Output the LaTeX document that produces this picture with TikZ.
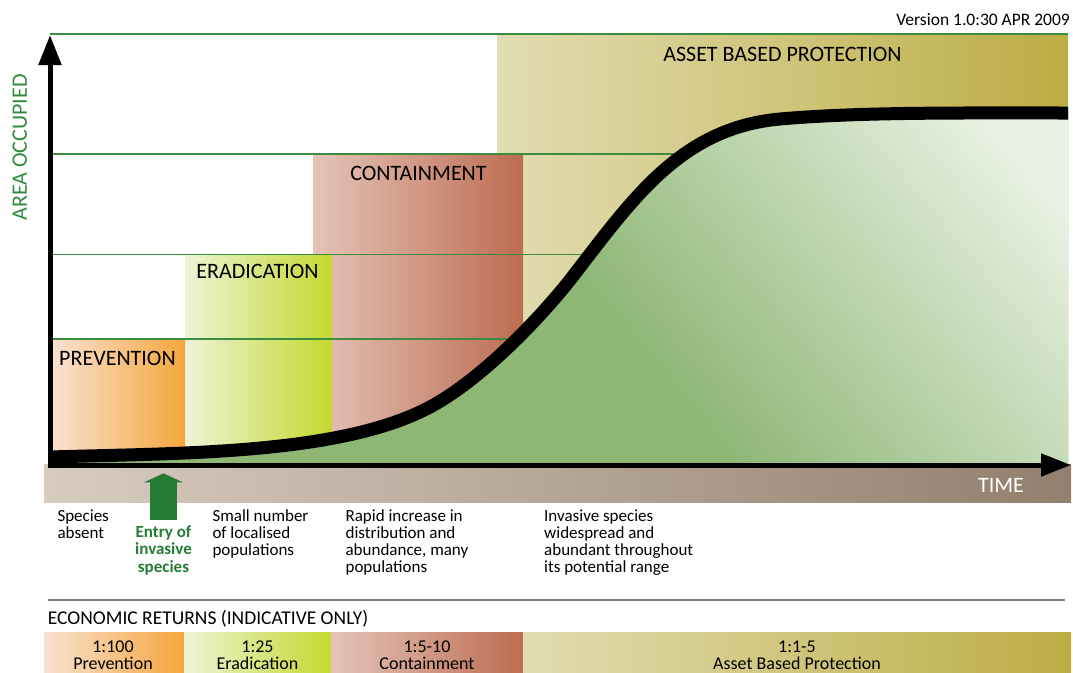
\documentclass[tikz,border=0pt]{standalone}
\usepackage{fontspec}
\setmainfont{Carlito}
\usetikzlibrary{arrows.meta}

% phase colours (light end, strong end)
\definecolor{prevL}{HTML}{F8E2D2}
\definecolor{prevR}{HTML}{F5A63C}
\definecolor{eradL}{HTML}{EEF3D6}
\definecolor{eradR}{HTML}{C3D92F}
\definecolor{contL}{HTML}{E4C4B9}
\definecolor{contR}{HTML}{BD6C50}
\definecolor{assetL}{HTML}{E2DDB2}
\definecolor{assetR}{HTML}{BCAD44}
\definecolor{timeL}{HTML}{D8CCC0}
\definecolor{timeR}{HTML}{927F6E}
\definecolor{areaDark}{HTML}{8EB776}
\definecolor{areaLight}{HTML}{EAF2E4}
\definecolor{levelgreen}{HTML}{3C8C3F}
\definecolor{entrygreen}{HTML}{267C35}
\definecolor{labelgreen}{HTML}{2E8B3E}
\definecolor{rulegray}{HTML}{7F7F7F}

\pgfdeclarehorizontalshading{areafade}{100bp}{color(0bp)=(areaDark); color(39bp)=(areaDark); color(60bp)=(areaLight); color(100bp)=(areaLight)}

\tikzset{
  prevzone/.style={left color=prevL, right color=prevR},
  eradzone/.style={left color=eradL, right color=eradR},
  contzone/.style={left color=contL, right color=contR},
  assetzone/.style={left color=assetL, right color=assetR},
  level/.style={draw=levelgreen, line width=1.1pt},
  axisline/.style={line width=5pt, -{Triangle[length=30pt,width=22pt]}},
  spread/.style={line width=13pt, line cap=butt},
  title/.style={font=\fontsize{22}{24}\selectfont, anchor=base, inner sep=0pt},
  note/.style={font=\fontsize{17}{17.3}\selectfont, align=left, anchor=base west, inner sep=0pt},
  ratio/.style={font=\fontsize{18}{17}\selectfont, align=center, anchor=base, inner sep=0pt},
  entryarrow/.style={draw=entrygreen, line width=26.7pt, -{Triangle[length=9pt,width=38.4pt]}},
}

\begin{document}
\begin{tikzpicture}[x=1pt, y=-1pt]
\useasboundingbox (0,0) rectangle (1073,672);

% management phases behind the curve
\shade[assetzone] (497.5,34) rectangle (1068,465);
\shade[contzone] (313,154) rectangle (523,465);
\shade[eradzone] (185,254.5) rectangle (331.5,465);
\shade[prevzone] (52,339) rectangle (185,465);

% area levels
\foreach \yy in {34,154,254.5,339} \draw[level] (50,\yy) -- (1068,\yy);

% invasion curve and the area it occupies
\def\spreadcurve{(50,457) .. controls (180,453) and (340,455) .. (430,407)
  .. controls (475,383) and (530,330) .. (570,280)
  .. controls (632,200) and (680,128) .. (780,119)
  .. controls (860,112) and (960,113) .. (1068,113)}
\fill[areaDark] \spreadcurve -- (1068,465) -- (50,465) -- cycle;
\begin{scope}
  \clip \spreadcurve -- (1068,465) -- (50,465) -- cycle;
  \shade[shading=areafade, shading angle=40] (300,-300) rectangle (1300,700);
\end{scope}
\draw[spread] \spreadcurve;

% time band
\shade[left color=timeL, right color=timeR] (44,464.5) rectangle (1071,502.7);

% axes
\coordinate (origin) at (47.5,465);
\coordinate (tend) at (1071,465);
\coordinate (ybase) at (50,467.7);
\coordinate (yend) at (50,35);
\draw[axisline] (origin) -- (tend);
\draw[axisline] (ybase) -- (yend);

% axis labels and phase titles
\node[title, text=labelgreen, rotate=90] (areaocc) at (27,147.5) {AREA OCCUPIED};
\node[title, text=white] (time) at (1001,492) {TIME};
\node[title] (prevtitle) at (117.5,365) {PREVENTION};
\node[title] (eradtitle) at (257.5,278.3) {ERADICATION};
\node[title] (conttitle) at (418.5,180) {CONTAINMENT};
\node[title] (assettitle) at (782.5,61) {ASSET BASED PROTECTION};
\node[font=\fontsize{17.5}{20}\selectfont, anchor=base east, inner sep=0pt] (version) at (1070,25) {Version 1.0:30 APR 2009};

% entry of the species
\coordinate (entrybase) at (163.5,520);
\coordinate (entrytip) at (163.5,473.3);
\draw[entryarrow] (entrybase) -- (entrytip);

% stage descriptions (anchored on the baseline of their last line)
\node[note] (absent) at (57.3,538.3) {Species\\absent};
\node[note, font=\fontsize{17}{17.3}\selectfont\bfseries, text=entrygreen, align=center, anchor=base] (entry) at (163.5,572.1) {Entry of\\invasive\\species};
\node[note] (localised) at (212.3,555.6) {Small number\\of localised\\populations};
\node[note] (rapid) at (345.4,572.9) {Rapid increase in\\distribution and\\abundance, many\\populations};
\node[note] (widespread) at (544,572.9) {Invasive species\\widespread and\\abundant throughout\\its potential range};

% economic returns
\coordinate (ruleL) at (48,600);
\coordinate (ruleR) at (1065,600);
\draw[rulegray, line width=1.8pt] (ruleL) -- (ruleR);
\node[font=\fontsize{19.5}{22}\selectfont, anchor=base west, inner sep=0pt] (econ) at (47.7,624.5) {ECONOMIC RETURNS (INDICATIVE ONLY)};

\shade[prevzone] (44,632.7) rectangle (184,673);
\shade[eradzone] (184,632.7) rectangle (331,673);
\shade[contzone] (331,632.7) rectangle (523.4,673);
\shade[assetzone] (523.4,632.7) rectangle (1071,673);
\node[ratio] (prevratio) at (113,669.5) {1:100\\Prevention};
\node[ratio] (eradratio) at (257.5,669.5) {1:25\\Eradication};
\node[ratio] (contratio) at (427,669.5) {1:5-10\\Containment};
\node[ratio] (assetratio) at (797,669.5) {1:1-5\\Asset Based Protection};
\end{tikzpicture}
\end{document}
